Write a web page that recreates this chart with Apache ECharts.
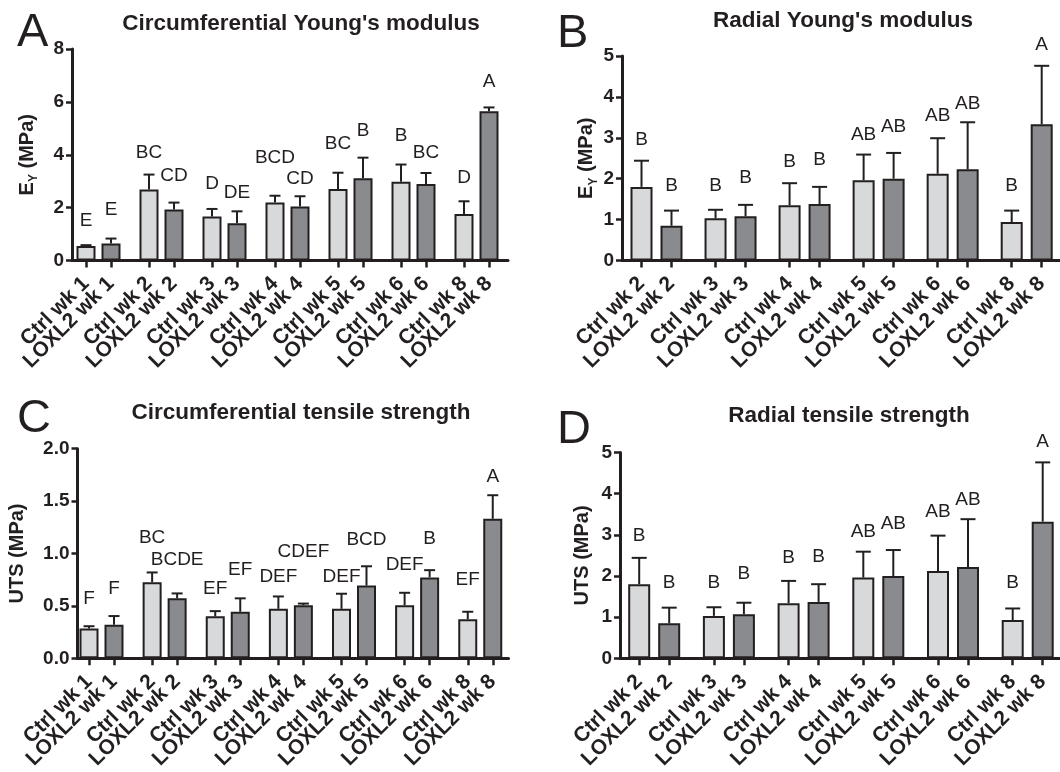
<!DOCTYPE html>
<html>
<head>
<meta charset="utf-8">
<script src="https://cdn.jsdelivr.net/npm/echarts@6/dist/echarts.min.js"></script>
<style>
html,body{margin:0;padding:0;background:#fff;}
#chart{width:1060px;height:772px;}
</style>
</head>
<body>
<div id="chart"></div>
<script>
// ---------------- DATA ----------------
const catsWk1to8 = ['Ctrl wk 1','LOXL2 wk 1','Ctrl wk 2','LOXL2 wk 2','Ctrl wk 3','LOXL2 wk 3','Ctrl wk 4','LOXL2 wk 4','Ctrl wk 5','LOXL2 wk 5','Ctrl wk 6','LOXL2 wk 6','Ctrl wk 8','LOXL2 wk 8'];
const catsWk2to8 = ['Ctrl wk 2','LOXL2 wk 2','Ctrl wk 3','LOXL2 wk 3','Ctrl wk 4','LOXL2 wk 4','Ctrl wk 5','LOXL2 wk 5','Ctrl wk 6','LOXL2 wk 6','Ctrl wk 8','LOXL2 wk 8'];

// A: Circumferential Young's modulus (MPa)
const circModMean = [0.55, 0.64, 2.69, 1.93, 1.66, 1.41, 2.19, 2.04, 2.70, 3.11, 2.98, 2.89, 1.76, 5.65];
const circModSem  = [0.03, 0.19, 0.56, 0.26, 0.29, 0.45, 0.26, 0.39, 0.62, 0.78, 0.65, 0.42, 0.48, 0.14];
const circModLetters = ['E','E','BC','CD','D','DE','BCD','CD','BC','B','B','BC','D','A'];

// B: Radial Young's modulus (MPa)
const radModMean = [1.80, 0.85, 1.03, 1.08, 1.35, 1.38, 1.96, 2.00, 2.12, 2.23, 0.94, 3.33];
const radModSem  = [0.64, 0.37, 0.21, 0.28, 0.54, 0.42, 0.63, 0.63, 0.87, 1.15, 0.28, 1.43];
const radModLetters = ['B','B','B','B','B','B','AB','AB','AB','AB','B','A'];

// C: Circumferential tensile strength (MPa)
const circUtsMean = [0.284, 0.319, 0.725, 0.572, 0.400, 0.444, 0.472, 0.506, 0.472, 0.694, 0.506, 0.772, 0.372, 1.331];
const circUtsSem  = [0.022, 0.084, 0.094, 0.047, 0.050, 0.128, 0.118, 0.016, 0.144, 0.184, 0.119, 0.069, 0.072, 0.225];
const circUtsLetters = ['F','F','BC','BCDE','EF','EF','DEF','CDEF','DEF','BCD','DEF','B','EF','A'];

// D: Radial tensile strength (MPa)
const radUtsMean = [1.80, 0.85, 1.03, 1.07, 1.34, 1.37, 1.96, 2.00, 2.12, 2.22, 0.93, 3.32];
const radUtsSem  = [0.64, 0.38, 0.21, 0.28, 0.54, 0.43, 0.63, 0.63, 0.86, 1.16, 0.28, 1.44];
const radUtsLetters = ['B','B','B','B','B','B','AB','AB','AB','AB','B','A'];

const titles = ["Circumferential Young's modulus", "Radial Young's modulus", "Circumferential tensile strength", "Radial tensile strength"];
const panelTags = ['A','B','C','D'];
const yNames = ['{e|E}{s|Y}{e| (MPa)}', '{e|E}{s|Y}{e| (MPa)}', 'UTS (MPa)', 'UTS (MPa)'];
const yMax = [8, 5, 2, 5];
const yStep = [2, 1, 0.5, 1];

// ---------------- LAYOUT / STYLE ----------------
const FONT = 'Arial, "Liberation Sans", Helvetica, sans-serif';
const INK = '#231f20';
const LIGHT = '#d8d9db';
const DARK = '#8a8b8e';

// pixel gaps between error-bar cap and significance letter (label nudges)
const letterGapA = [18, 22, 15, 20, 18, 12, 31, 11, 22, 20, 22, 13, 17, 19];
const letterGapB = [14, 18, 17, 20, 15, 20, 13, 19, 16, 12, 18, 14];
const letterGapC = [21, 20, 28, 27, 16, 22, 13, 45, 10, 20, 21, 25, 25, 12];
const letterGapD = [15, 18, 18, 22, 16, 21, 13, 19, 17, 13, 19, 14];

const panels = [
  {cats: catsWk1to8, mean: circModMean, sem: circModSem, letters: circModLetters, gaps: letterGapA,
   grid: {left: 72, top: 49, width: 436, height: 211.5}, unit: 25, ratio: 2.52, firstOff: 14, barW: 19, capW: 11, nameGap: 32, fmt: v => String(v)},
  {cats: catsWk2to8, mean: radModMean, sem: radModSem, letters: radModLetters, gaps: letterGapB,
   grid: {left: 622, top: 56, width: 438, height: 204.5}, unit: 30, ratio: 2.468, firstOff: 19.5, barW: 22, capW: 15, nameGap: 22, fmt: v => String(v)},
  {cats: catsWk1to8, mean: circUtsMean, sem: circUtsSem, letters: circUtsLetters, gaps: letterGapC,
   grid: {left: 77.5, top: 448.7, width: 431, height: 213.3}, unit: 25, ratio: 2.525, firstOff: 11.5, barW: 19, capW: 11, nameGap: 50, fmt: v => v.toFixed(1)},
  {cats: catsWk2to8, mean: radUtsMean, sem: radUtsSem, letters: radUtsLetters, gaps: letterGapD,
   grid: {left: 620, top: 452.5, width: 440, height: 208.8}, unit: 30, ratio: 2.49, firstOff: 19.2, barW: 22, capW: 15, nameGap: 28, fmt: v => String(v)}
];
const titlePos = [{x: 296, y: 7}, {x: 838, y: 4}, {x: 296, y: 396}, {x: 844, y: 399}];
const tagPos = [{x: 12, y: 5}, {x: 552, y: 6}, {x: 12, y: 391}, {x: 552, y: 402}];

// ---------------- BUILD ----------------
const grids = [], xAxes = [], xAxes2 = [], yAxes = [], series = [], titleComps = [];

panels.forEach((p, k) => {
  const pos = p.cats.map((c, i) => Math.floor(i / 2) * p.ratio + (i % 2));
  const ctrlPos = pos.filter((q, i) => i % 2 === 0);
  const loxPos = pos.filter((q, i) => i % 2 === 1);
  const xmin = -p.firstOff / p.unit;
  const xmax = xmin + p.grid.width / p.unit;
  const nameAt = v => {
    let best = 0, d = Infinity;
    pos.forEach((q, i) => { if (Math.abs(q - v) < d) { d = Math.abs(q - v); best = i; } });
    return p.cats[best];
  };
  grids.push(Object.assign({containLabel: false}, p.grid));
  const labelStyle = {show: true, rotate: 45, margin: 20, formatter: nameAt,
      showMinLabel: true, showMaxLabel: true, hideOverlap: false,
      fontFamily: FONT, fontWeight: 'bold', fontSize: 21, color: INK};
  // Ctrl categories (carries the axis line)
  xAxes.push({
    gridIndex: k, type: 'value', min: xmin, max: xmax,
    axisLine: {show: true, onZero: false, lineStyle: {color: INK, width: 3}},
    splitLine: {show: false},
    axisTick: {show: true, customValues: ctrlPos, length: 7, lineStyle: {color: INK, width: 2.5}},
    axisLabel: Object.assign({customValues: ctrlPos}, labelStyle)
  });
  // LOXL2 categories (same scale, same position)
  xAxes2.push({
    gridIndex: k, type: 'value', min: xmin, max: xmax, position: 'bottom',
    axisLine: {show: false, onZero: false},
    splitLine: {show: false},
    axisTick: {show: true, customValues: loxPos, length: 7, lineStyle: {color: INK, width: 2.5}},
    axisLabel: Object.assign({customValues: loxPos}, labelStyle)
  });
  yAxes.push({
    gridIndex: k, type: 'value', min: 0, max: yMax[k], interval: yStep[k],
    axisLine: {show: true, onZero: false, lineStyle: {color: INK, width: 3}},
    axisTick: {show: true, length: 6, lineStyle: {color: INK, width: 2.5}},
    splitLine: {show: false},
    axisLabel: {formatter: p.fmt, fontFamily: FONT, fontWeight: 'bold', fontSize: 19, color: INK, margin: 8,
      showMinLabel: true, showMaxLabel: true},
    name: yNames[k], nameLocation: 'middle', nameRotate: 90, nameGap: p.nameGap,
    nameTextStyle: {fontFamily: FONT, fontWeight: 'bold', fontSize: 20, color: INK,
      rich: {
        e: {fontFamily: FONT, fontWeight: 'bold', fontSize: 20, color: INK, lineHeight: 26},
        s: {fontFamily: FONT, fontWeight: 'bold', fontSize: 12, color: INK, lineHeight: 13, verticalAlign: 'bottom'}
      }}
  });
  series.push({
    type: 'bar', xAxisIndex: k, yAxisIndex: k, barWidth: p.barW, silent: true, z: 2,
    itemStyle: {borderColor: INK, borderWidth: 2},
    data: p.mean.map((m, i) => ({value: [pos[i], m], itemStyle: {color: i % 2 ? DARK : LIGHT}}))
  });
  const fs = 19, capH = fs * 0.716;
  series.push({
    type: 'custom', xAxisIndex: k, yAxisIndex: k, z: 3, silent: true, clip: false,
    encode: {x: 0, y: [1, 2]},
    data: p.mean.map((m, i) => [pos[i], m, m + p.sem[i], i]),
    renderItem: (params, api) => {
      const i = api.value(3);
      const x = api.value(0);
      const b = api.coord([x, api.value(1)]);
      const t = api.coord([x, api.value(2)]);
      const hw = p.capW / 2;
      return {type: 'group', children: [
        {type: 'line', shape: {x1: b[0], y1: b[1], x2: t[0], y2: t[1]}, style: {stroke: INK, lineWidth: 2}},
        {type: 'line', shape: {x1: t[0] - hw, y1: t[1], x2: t[0] + hw, y2: t[1]}, style: {stroke: INK, lineWidth: 2}},
        {type: 'text', x: t[0], y: t[1] - p.gaps[i] - capH / 2,
          style: {text: p.letters[i], fontFamily: FONT, fontSize: fs, fill: INK, align: 'center', verticalAlign: 'middle'}}
      ]};
    }
  });
  titleComps.push({text: titles[k], left: titlePos[k].x, top: titlePos[k].y, textAlign: 'center',
    textStyle: {fontFamily: FONT, fontWeight: 'bold', fontSize: 22.5, color: INK}});
  titleComps.push({text: panelTags[k], left: tagPos[k].x, top: tagPos[k].y,
    textStyle: {fontFamily: FONT, fontWeight: 'normal', fontSize: 47, color: INK}});
});

const chart = echarts.init(document.getElementById('chart'), null, {renderer: 'canvas'});
chart.setOption({
  backgroundColor: '#ffffff',
  animation: false,
  title: titleComps,
  grid: grids,
  xAxis: xAxes.concat(xAxes2),
  yAxis: yAxes,
  series: series
});
</script>
</body>
</html>
